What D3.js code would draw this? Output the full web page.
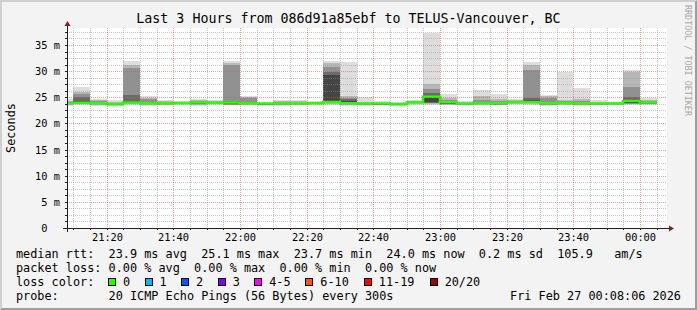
<!DOCTYPE html>
<html>
<head>
<meta charset="utf-8">
<script src="https://cdn.jsdelivr.net/npm/d3@7"></script>
<style>
    html, body { margin: 0; padding: 0; background: #f3f3f3; }
    svg { display: block; }
    text { font-family: "DejaVu Sans Mono", monospace; white-space: pre; }
</style>
</head>
<body>
<svg id="chart" width="697" height="310"></svg>
<script>
(function () {
    "use strict";

    // ---- data ----
    var title = "Last 3 Hours from 086d91a85ebf to TELUS-Vancouver, BC";
    var timeStart = new Date(2026, 1, 26, 21, 8, 6);
    var timeEnd = new Date(2026, 1, 27, 0, 8, 6);
    var firstStep = new Date(2026, 1, 26, 21, 5, 0);
    var stepMinutes = 5;

    // median rtt per 5 minute step (ms)
    var medians = [23.9, 23.95, 23.85, 23.7, 24.0, 23.85, 23.85, 23.9, 24.0, 23.95,
        24.0, 23.85, 23.8, 23.8, 23.8, 23.85, 24.1, 23.85, 23.8, 23.8,
        23.7, 24.05, 25.1, 24.05, 23.75, 23.9, 23.85, 24.1, 24.1, 23.85,
        23.95, 23.8, 23.8, 23.8, 24.3, 24.0];

    // sorted ping rtts per step (ms), 10 per step, paired outside-in for the smoke
    var pings = [
        [23.4, 23.6, 23.7, 23.8, 23.85, 23.95, 24.0, 24.1, 24.3, 24.6],
        [23.5, 23.7, 23.8, 23.9, 24.0, 24.3, 25.0, 25.6, 26.1, 27.0],
        [23.4, 23.55, 23.65, 23.75, 23.8, 23.9, 24.0, 24.2, 24.4, 24.7],
        [23.3, 23.45, 23.5, 23.55, 23.6, 23.7, 23.8, 23.9, 24.1, 24.4],
        [23.5, 23.7, 23.9, 24.05, 24.1, 24.2, 25.5, 30.6, 31.2, 31.9],
        [23.4, 23.55, 23.65, 23.75, 23.8, 23.9, 24.1, 24.7, 24.95, 25.15],
        [23.5, 23.6, 23.7, 23.75, 23.8, 23.85, 23.95, 24.1, 24.3, 24.5],
        [23.6, 23.7, 23.75, 23.8, 23.85, 23.9, 23.95, 24.0, 24.1, 24.3],
        [23.4, 23.6, 23.7, 23.8, 23.9, 24.0, 24.1, 24.2, 24.4, 24.7],
        [23.5, 23.65, 23.75, 23.85, 23.9, 24.0, 24.05, 24.1, 24.2, 24.4],
        [23.5, 23.55, 23.6, 23.65, 23.7, 23.85, 24.3, 31.2, 31.5, 31.9],
        [23.5, 23.6, 23.7, 23.75, 23.8, 23.9, 24.0, 24.9, 25.0, 25.2],
        [23.35, 23.5, 23.6, 23.7, 23.75, 23.8, 23.85, 23.9, 24.0, 24.15],
        [23.3, 23.5, 23.6, 23.7, 23.75, 23.85, 23.95, 24.1, 24.25, 24.45],
        [23.5, 23.6, 23.65, 23.7, 23.75, 23.85, 23.9, 24.0, 24.2, 24.4],
        [23.6, 23.65, 23.7, 23.75, 23.8, 23.9, 23.95, 24.0, 24.1, 24.3],
        [23.6, 23.8, 23.9, 23.95, 24.1, 29.2, 29.8, 30.8, 31.6, 32.0],
        [23.4, 23.55, 23.65, 23.7, 23.75, 24.2, 24.6, 24.9, 25.2, 31.7],
        [23.4, 23.5, 23.6, 23.7, 23.75, 23.85, 23.9, 24.0, 24.1, 25.0],
        [23.5, 23.6, 23.65, 23.7, 23.75, 23.8, 23.85, 23.9, 24.0, 24.2],
        [23.3, 23.45, 23.55, 23.6, 23.65, 23.75, 23.8, 23.9, 24.0, 24.1],
        [23.6, 23.75, 23.85, 23.9, 24.0, 24.1, 24.15, 24.2, 24.3, 24.5],
        [23.6, 23.8, 23.9, 24.0, 24.1, 25.0, 25.8, 26.6, 27.6, 37.2],
        [23.5, 23.6, 23.65, 23.7, 23.8, 24.0, 24.2, 24.4, 24.8, 25.6],
        [23.45, 23.55, 23.6, 23.65, 23.7, 23.8, 23.9, 24.0, 24.1, 24.25],
        [23.5, 23.6, 23.7, 23.75, 23.8, 23.95, 24.1, 24.4, 25.2, 26.3],
        [23.5, 23.55, 23.6, 23.7, 23.75, 23.85, 24.0, 24.3, 24.7, 25.6],
        [23.7, 23.8, 23.9, 23.95, 24.0, 24.1, 24.2, 24.3, 24.45, 24.7],
        [23.6, 23.75, 23.85, 23.9, 24.0, 24.4, 24.8, 30.3, 31.2, 31.7],
        [23.4, 23.5, 23.6, 23.65, 23.75, 23.9, 24.0, 24.8, 25.2, 25.5],
        [23.5, 23.6, 23.7, 23.75, 23.85, 23.95, 24.05, 24.2, 24.5, 29.8],
        [23.4, 23.5, 23.6, 23.7, 23.75, 23.85, 23.95, 24.2, 24.6, 26.7],
        [23.45, 23.55, 23.6, 23.7, 23.75, 23.85, 23.9, 24.0, 24.15, 24.4],
        [23.5, 23.6, 23.65, 23.7, 23.75, 23.85, 23.9, 23.95, 24.05, 24.15],
        [23.5, 23.7, 23.8, 23.9, 24.0, 24.5, 25.0, 27.0, 29.8, 30.2],
        [23.6, 23.7, 23.75, 23.8, 23.9, 24.05, 24.15, 24.3, 24.5, 24.8]
    ];

    var yTicks = [0, 5, 10, 15, 20, 25, 30, 35];
    var yTickLabels = [" 0  ", " 5 m", "10 m", "15 m", "20 m", "25 m", "30 m", "35 m"];
    var yMax = 38.25;
    var yMinorStep = 1.25;

    var lossLabels = ["0", "1", "2", "3", "4-5", "6-10", "11-19", "20/20"];

    var legendLines = [
        "median rtt:  23.9 ms avg  25.1 ms max  23.7 ms min  24.0 ms now  0.2 ms sd  105.9   am/s",
        "packet loss: 0.00 % avg  0.00 % max  0.00 % min  0.00 % now",
        "loss color:",
        "probe:       20 ICMP Echo Pings (56 Bytes) every 300s"
    ];
    var stamp = "Fri Feb 27 00:08:06 2026";

    // ---- layout / style ----
    var config = {
        width: 697, height: 310,
        plot: { left: 67, top: 28, width: 600, height: 200 },
        smoke: ["#dddddd", "#b7b7b7", "#919191", "#6b6b6b", "#454545"],
        lossColors: ["#26ff00", "#00b8ff", "#0059ff", "#7e00ff", "#ff00ff", "#ff5500", "#ff0000", "#a10000"],
        minorGrid: "rgba(143,143,143,0.5)",
        majorGrid: "rgba(222,80,80,0.55)",
        axis: "#202020",
        arrow: "#7f1f1f"
    };

    var p = config.plot;
    var x0 = p.left, x1 = p.left + p.width, y0 = p.top + p.height, y1 = p.top;
    var svg = d3.select("#chart");

    // background + 3d border
    svg.append("rect").attr("width", config.width).attr("height", config.height).attr("fill", "#f3f3f3");
    svg.append("path").attr("fill", "#cfcfcf")
        .attr("d", "M0,0H697L695,2H2V308L0,310Z");
    svg.append("path").attr("fill", "#9e9e9e")
        .attr("d", "M697,0V310H0L2,308H695V2Z");

    // canvas
    svg.append("rect").attr("x", x0).attr("y", y1).attr("width", p.width).attr("height", p.height).attr("fill", "#fff");

    var x = d3.scaleTime().domain([timeStart, timeEnd]).range([x0, x1]);
    var y = d3.scaleLinear().domain([0, yMax]).range([y0, y1]);

    svg.append("clipPath").attr("id", "plotclip")
        .append("rect").attr("x", x0).attr("y", y1).attr("width", p.width).attr("height", p.height);

    var plot = svg.append("g").attr("clip-path", "url(#plotclip)");

    // smoke
    var steps = pings.map(function (d, j) {
        var t0 = d3.timeMinute.offset(firstStep, j * stepMinutes);
        return { t0: t0, t1: d3.timeMinute.offset(t0, stepMinutes), pings: d, median: medians[j] };
    });

    d3.range(5).forEach(function (k) {
        plot.append("g").attr("shape-rendering", "crispEdges")
            .selectAll("rect").data(steps).enter().append("rect")
            .attr("x", function (d) { return Math.round(x(d.t0)); })
            .attr("width", function (d) { return Math.round(x(d.t1)) - Math.round(x(d.t0)); })
            .attr("y", function (d) { return Math.round(y(d.pings[9 - k])); })
            .attr("height", function (d) { return Math.max(1, Math.round(y(d.pings[k])) - Math.round(y(d.pings[9 - k]))); })
            .attr("fill", config.smoke[k]);
    });

    // median line (stepped)
    var pts = [];
    steps.forEach(function (d) {
        pts.push([Math.round(x(d.t0)), y(d.median)]);
        pts.push([Math.round(x(d.t1)), y(d.median)]);
    });
    plot.append("path")
        .attr("d", d3.line()(pts))
        .attr("fill", "none")
        .attr("stroke", config.lossColors[0])
        .attr("stroke-width", 2.6);

    // grid
    var grid = svg.append("g").attr("shape-rendering", "crispEdges");
    var yMinor = d3.range(yMinorStep, yMax, yMinorStep).filter(function (v) { return Math.abs(v / 5 - Math.round(v / 5)) > 1e-6; });
    var xMinor = d3.timeMinute.every(5).range(timeStart, timeEnd).filter(function (t) { return t.getMinutes() % 20 !== 0; });
    var xMajor = d3.timeMinute.every(20).range(timeStart, timeEnd);

    function hline(g, v, color) {
        var yy = Math.round(y(v)) + 0.5;
        g.append("line").attr("x1", x0).attr("x2", x1).attr("y1", yy).attr("y2", yy)
            .attr("stroke", color).attr("stroke-dasharray", "1,1");
    }
    function vline(g, t, color) {
        var xx = Math.round(x(t)) + 0.5;
        g.append("line").attr("x1", xx).attr("x2", xx).attr("y1", y1).attr("y2", y0)
            .attr("stroke", color).attr("stroke-dasharray", "1,1");
    }
    yMinor.forEach(function (v) { hline(grid, v, config.minorGrid); });
    xMinor.forEach(function (t) { vline(grid, t, config.minorGrid); });
    yTicks.slice(1).forEach(function (v) { hline(grid, v, config.majorGrid); });
    xMajor.forEach(function (t) { vline(grid, t, config.majorGrid); });

    // axis ticks
    yTicks.concat(yMinor).forEach(function (v) {
        var yy = Math.round(y(v)) + 0.5;
        grid.append("line").attr("x1", x0 - 2).attr("x2", x0).attr("y1", yy).attr("y2", yy).attr("stroke", config.axis);
    });
    xMinor.concat(xMajor).forEach(function (t) {
        var xx = Math.round(x(t)) + 0.5;
        grid.append("line").attr("x1", xx).attr("x2", xx).attr("y1", y0).attr("y2", y0 + 2).attr("stroke", config.axis);
    });

    // axes with arrows
    var ax = svg.append("g").attr("shape-rendering", "crispEdges");
    ax.append("line").attr("x1", x0 - 4).attr("x2", x1 + 4).attr("y1", y0 + 0.5).attr("y2", y0 + 0.5).attr("stroke", config.axis);
    ax.append("line").attr("x1", x0 + 0.5).attr("x2", x0 + 0.5).attr("y1", y0 + 4).attr("y2", y1 - 4).attr("stroke", config.axis);
    svg.append("path").attr("fill", config.arrow)
        .attr("d", "M" + (x1 + 2) + "," + (y0 - 3 + 0.5) + "L" + (x1 + 2) + "," + (y0 + 3 + 0.5) + "L" + (x1 + 7) + "," + (y0 + 0.5) + "Z");
    svg.append("path").attr("fill", config.arrow)
        .attr("d", "M" + (x0 - 3 + 0.5) + "," + (y1 - 2) + "L" + (x0 + 3 + 0.5) + "," + (y1 - 2) + "L" + (x0 + 0.5) + "," + (y1 - 7) + "Z");

    // labels
    var axisFont = 10.36, legendFont = 11.84;

    svg.append("text").attr("x", 348.5).attr("y", 23).attr("text-anchor", "middle")
        .attr("font-size", 13.3).attr("fill", "#000").text(title);

    svg.append("g").selectAll("text").data(yTicks).enter().append("text")
        .attr("x", x0 - 7 - 4 * axisFont * 0.602)
        .attr("y", function (d) { return Math.round(y(d)) + 4; })
        .attr("font-size", axisFont)
        .text(function (d, i) { return yTickLabels[i]; });

    var fmt = d3.timeFormat("%H:%M");
    svg.append("g").selectAll("text").data(xMajor).enter().append("text")
        .attr("x", function (d) { return Math.round(x(d)) + 0.5; })
        .attr("y", 241)
        .attr("text-anchor", "middle")
        .attr("font-size", axisFont)
        .text(fmt);

    svg.append("text").attr("transform", "translate(15," + (y1 + p.height / 2) + ") rotate(-90)")
        .attr("text-anchor", "middle").attr("font-size", legendFont).text("Seconds");

    svg.append("text").attr("transform", "translate(685,5) rotate(90)")
        .attr("font-size", 8.4).attr("fill", "#a8a8a8").text("RRDTOOL / TOBI OETIKER");

    // legend
    var legendY = [257.5, 271.5, 285.5, 299.5];
    legendLines.forEach(function (s, i) {
        svg.append("text").attr("x", 16).attr("y", legendY[i]).attr("font-size", legendFont).text(s);
    });
    svg.append("text").attr("x", 681).attr("y", legendY[3]).attr("text-anchor", "end")
        .attr("font-size", legendFont).text(stamp);

    var lx = 123;
    var lossG = svg.append("g");
    lossLabels.forEach(function (lab, i) {
        lossG.append("rect").attr("x", lx - 14.5).attr("y", legendY[2] - 7.5)
            .attr("width", 7).attr("height", 7)
            .attr("fill", config.lossColors[i]).attr("stroke", "#000").attr("shape-rendering", "crispEdges");
        lossG.append("text").attr("x", lx).attr("y", legendY[2]).attr("font-size", legendFont).text(lab);
        lx += (lab.length + 4) * 7.31;
    });
})();
</script>
</body>
</html>
